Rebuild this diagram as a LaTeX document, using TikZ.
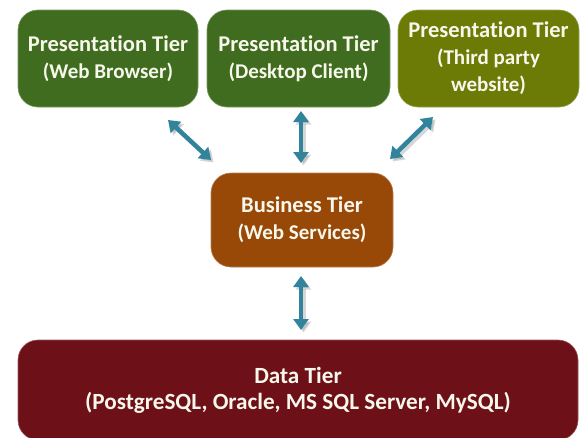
\documentclass[tikz,border=0pt]{standalone}
\usepackage{fontspec}
\setmainfont{Carlito}[Ligatures=NoCommon]
\usetikzlibrary{arrows.meta}
\definecolor{presA}{HTML}{3F6C1E}
\definecolor{presB}{HTML}{6B7B06}
\definecolor{bizc}{HTML}{984807}
\definecolor{datac}{HTML}{6E1018}
\definecolor{arrc}{HTML}{31849B}
\definecolor{txtc}{HTML}{F7F7EC}
\tikzset{
  tier/.style={rounded corners=20pt, draw=#1!70!white, line width=0.6pt, fill=#1, text=txtc, align=center, inner sep=0pt, font=\bfseries\fontsize{21}{27}\selectfont},
  link/.style={line width=4.5pt, arrc, {Triangle[width=15pt,length=11pt]}-{Triangle[width=15pt,length=11pt]}},
  linkshadow/.style={line width=4.5pt, black!45, opacity=0.35, {Triangle[width=15pt,length=11pt]}-{Triangle[width=15pt,length=11pt]}}
}
\newcommand{\lA}[1]{{\fontsize{22.5}{27}\selectfont #1}}
\newcommand{\lB}[1]{{\fontsize{21}{27}\selectfont #1}}
\newcommand{\lC}[1]{{\fontsize{23.2}{26}\selectfont #1}}
\begin{document}
\begin{tikzpicture}[x=1pt,y=-1pt]
\useasboundingbox (0,0) rectangle (580,437);
\node[tier=presA, minimum width=180pt, minimum height=97pt] (web) at (108,58.5) {\lA{Presentation Tier}\\\lB{(Web Browser)}};
\node[tier=presA, minimum width=183pt, minimum height=97pt] (desk) at (298.5,58.5) {\lA{Presentation Tier}\\\lB{(Desktop Client)}};
\node[tier=presB, minimum width=181pt, minimum height=97pt] (third) at (488.5,58.5) {\lA{Presentation Tier}\\\lB{(Third party}\\\lB{website)}};
\node[tier=bizc, minimum width=182pt, minimum height=94pt] (biz) at (302,220) {\lA{Business Tier}\\\lB{(Web Services)}};
\node[tier=datac, minimum width=560pt, minimum height=100pt, font=\bfseries\fontsize{23.2}{26}\selectfont] (data) at (298,390) {\lC{Data Tier}\\\lC{(PostgreSQL, Oracle, MS SQL Server, MySQL)}};
\coordinate (a1) at (168,120); \coordinate (b1) at (211,160);
\coordinate (a2) at (301,111); \coordinate (b2) at (301,163);
\coordinate (a3) at (433,117); \coordinate (b3) at (390,159);
\coordinate (a4) at (301,276); \coordinate (b4) at (301,330);
\foreach \p/\q in {a1/b1,a2/b2,a3/b3,a4/b4}{
  \draw[linkshadow, transform canvas={shift={(2.5pt,-2.5pt)}}] (\p) -- (\q);
  \draw[link] (\p) -- (\q);
}
\end{tikzpicture}
\end{document}
